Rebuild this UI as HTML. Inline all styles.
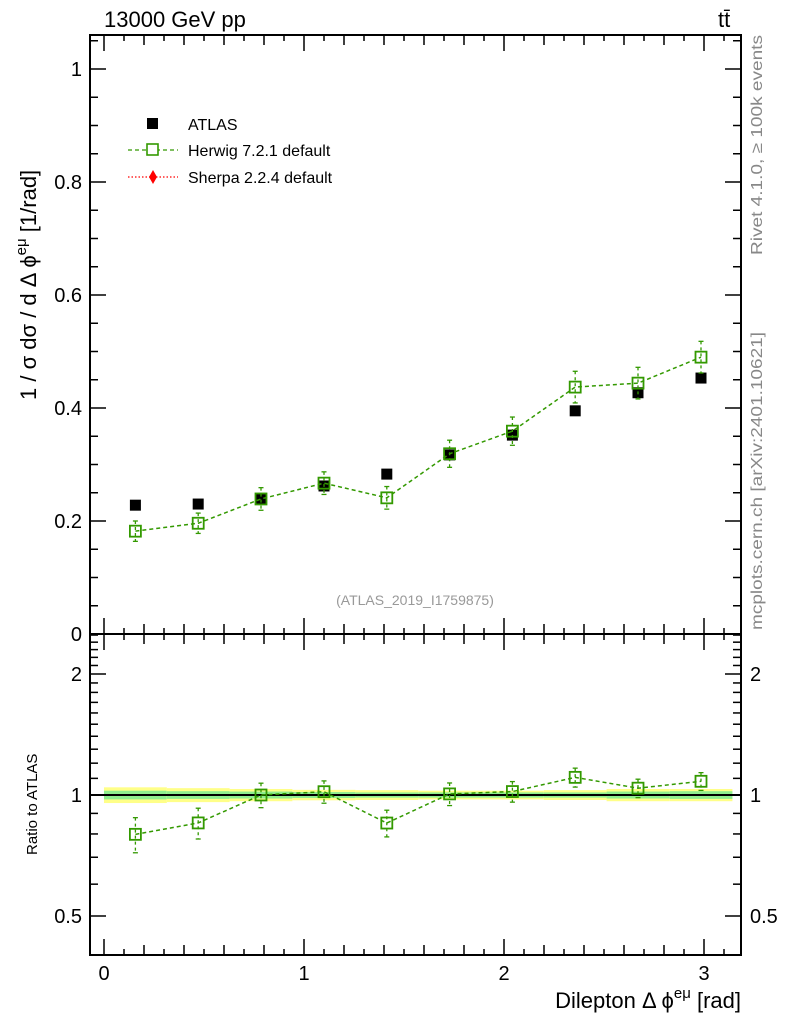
<!DOCTYPE html>
<html><head><meta charset="utf-8"><style>
body{margin:0;background:#fff;}
svg{display:block;font-family:"Liberation Sans",sans-serif;}
</style></head><body>
<svg id="chart" width="786" height="1024" viewBox="0 0 786 1024" xmlns="http://www.w3.org/2000/svg">
<g id="bands"></g>
<g id="marks"></g>
<g id="axes"></g>
<text x="104" y="27" font-size="22">13000 GeV pp</text>
<text x="718" y="27" font-size="22">tt̄</text>
<text transform="translate(36,400) rotate(-90)" font-size="22">1 / σ  dσ / d Δ ϕ<tspan dy="-10" font-size="15">eμ</tspan><tspan dy="10"> [1/rad]</tspan></text>
<text transform="translate(37,855) rotate(-90)" font-size="15">Ratio to ATLAS</text>
<text x="741" y="1008" font-size="22" text-anchor="end">Dilepton Δ ϕ<tspan dy="-10" font-size="15">eμ</tspan><tspan dy="10"> [rad]</tspan></text>
<text transform="translate(762,255) rotate(-90)" font-size="16" fill="#888" textLength="220" lengthAdjust="spacingAndGlyphs">Rivet 4.1.0, ≥ 100k events</text>
<text transform="translate(762,630) rotate(-90)" font-size="16" fill="#888" textLength="298" lengthAdjust="spacingAndGlyphs">mcplots.cern.ch [arXiv:2401.10621]</text>
<text x="415" y="605" font-size="14" fill="#999" text-anchor="middle">(ATLAS_2019_I1759875)</text>
<g>
<rect x="147" y="118" width="11" height="11" fill="#000"/>
<text x="188" y="130" font-size="16">ATLAS</text>
<line x1="128" y1="150" x2="178" y2="150" stroke="#339900" stroke-width="1.3" stroke-dasharray="4,3"/>
<rect x="147" y="144" width="11" height="11" fill="#fff" stroke="#339900" stroke-width="1.6"/>
<text x="188" y="156" font-size="16">Herwig 7.2.1 default</text>
<line x1="128" y1="177" x2="178" y2="177" stroke="#f00" stroke-width="1.3" stroke-dasharray="1.5,2"/>
<path d="M153,170 L157,177 L153,184 L149,177Z" fill="#f00"/>
<text x="188" y="183" font-size="16">Sherpa 2.2.4 default</text>
</g>
</svg>
<script>
const binCenters=[0.157,0.471,0.785,1.1,1.414,1.728,2.042,2.356,2.670,2.985];
const atlasValues=[0.228,0.230,0.239,0.262,0.283,0.317,0.352,0.395,0.427,0.453];
const herwigValues=[0.182,0.196,0.239,0.267,0.241,0.319,0.359,0.437,0.444,0.490];
const herwigErrors=[0.018,0.018,0.02,0.02,0.02,0.024,0.025,0.028,0.028,0.028];
const ratioErrors=[0.08,0.075,0.07,0.065,0.065,0.065,0.06,0.06,0.055,0.055];
const bandTotal=[0.045,0.04,0.035,0.03,0.028,0.025,0.025,0.028,0.035,0.035];
const bandStat=[0.025,0.022,0.02,0.017,0.015,0.015,0.015,0.015,0.02,0.022];
const mainTicks=["0","0.2","0.4","0.6","0.8","1"];
const xTicks=["0","1","2","3"];
const ratioTicks=["0.5","1","2"];
const NS="http://www.w3.org/2000/svg";
const L=90,R=741,T=35,M=634,B=955;
const X=v=>104+v*200;
const Y=v=>634-v*565;
const YR=v=>795-Math.log2(v)*121;
const binW=Math.PI/10;
function el(tag,attrs,parent){const e=document.createElementNS(NS,tag);for(const k in attrs)e.setAttribute(k,attrs[k]);parent.appendChild(e);return e;}
const bands=document.getElementById('bands'),marks=document.getElementById('marks'),axes=document.getElementById('axes');
binCenters.forEach((c,i)=>{
 const x0=X(c-binW/2),w=binW*200;
 const b1=el('rect',{x:x0,y:YR(1+bandTotal[i]),width:w,height:YR(1-bandTotal[i])-YR(1+bandTotal[i]),fill:'#ffff88'},bands);
 
 
 const b2=el('rect',{x:x0,y:YR(1+bandStat[i]),width:w,height:YR(1-bandStat[i])-YR(1+bandStat[i]),fill:'#8eee8e'},bands);
 
 
});
const ref=el('line',{x1:L,x2:R,y1:YR(1),y2:YR(1),stroke:'#000','stroke-width':2},bands);


const ratios=herwigValues.map((h,i)=>h/atlasValues[i]);
function series(yf,vals,errs,name){
 const pts=binCenters.map((c,i)=>X(c)+','+yf(vals[i])).join(' ');
 const pl=el('polyline',{points:pts,fill:'none',stroke:'#339900','stroke-width':1.5,'stroke-dasharray':'4,3'},marks);
 
 
 binCenters.forEach((c,i)=>{
  const x=X(c),y=yf(vals[i]);
  const hi=yf(vals[i]+errs[i]),lo=yf(vals[i]-errs[i]);
  const eb=el('line',{x1:x,x2:x,y1:hi,y2:lo,stroke:'#339900','stroke-width':1.3,'stroke-dasharray':'3,3'},marks);
  
  
  el('line',{x1:x-2.5,x2:x+2.5,y1:hi,y2:hi,stroke:'#339900','stroke-width':1.3},marks);
  el('line',{x1:x-2.5,x2:x+2.5,y1:lo,y2:lo,stroke:'#339900','stroke-width':1.3},marks);
  const r=el('rect',{x:x-5.5,y:y-5.5,width:11,height:11,fill:'none',stroke:'#339900','stroke-width':1.8},marks);
  
  
 });
}
binCenters.forEach((c,i)=>{
 const r=el('rect',{x:X(c)-5.5,y:Y(atlasValues[i])-5.5,width:11,height:11,fill:'#000'},marks);
 
 
});
series(Y,herwigValues,herwigErrors,'herwig');
series(YR,ratios,ratioErrors,'herwig-ratio');
[[T,M],[M,B]].forEach(([t,b])=>{
 const f=el('rect',{x:L,y:t,width:R-L,height:b-t,fill:'none',stroke:'#000','stroke-width':2},axes);
 
 
});
for(let k=0;k<=31;k++){
 const v=k/10,x=X(v);if(x>R)break;
 const len=k%10===0?16:(k%2===0?10:6);
 [[M,-1],[T,1],[B,-1],[M,1]].forEach(([y0,d])=>el('line',{x1:x,x2:x,y1:y0,y2:y0+d*len,stroke:'#000','stroke-width':1.5},axes));
}
xTicks.forEach(t=>{const e=el('text',{x:X(+t),y:980,'font-size':20,'text-anchor':'middle'},axes);e.textContent=t;
 
 });
for(let k=0;k<=21;k++){
 const v=k/20,y=Y(v);if(y<T)break;
 const len=k%4===0?16:8;
 el('line',{x1:L,x2:L+len,y1:y,y2:y,stroke:'#000','stroke-width':1.5},axes);
 el('line',{x1:R,x2:R-len,y1:y,y2:y,stroke:'#000','stroke-width':1.5},axes);
}
mainTicks.forEach(t=>{const e=el('text',{x:82,y:Y(+t)+7,'font-size':20,'text-anchor':'end'},axes);e.textContent=t;
 
 });
for(let k=4;k<=25;k++){
 const v=k/10,y=YR(v);if(y<M||y>B)continue;
 const major=(k===5||k===10||k===20);
 const len=major?16:8;
 el('line',{x1:L,x2:L+len,y1:y,y2:y,stroke:'#000','stroke-width':1.5},axes);
 el('line',{x1:R,x2:R-len,y1:y,y2:y,stroke:'#000','stroke-width':1.5},axes);
}
ratioTicks.forEach(t=>{
 [[82,'end'],[750,'start']].forEach(([x,a])=>{const e=el('text',{x:x,y:YR(+t)+7,'font-size':20,'text-anchor':a},axes);e.textContent=t;
 
 });
});
</script>
</body></html>
